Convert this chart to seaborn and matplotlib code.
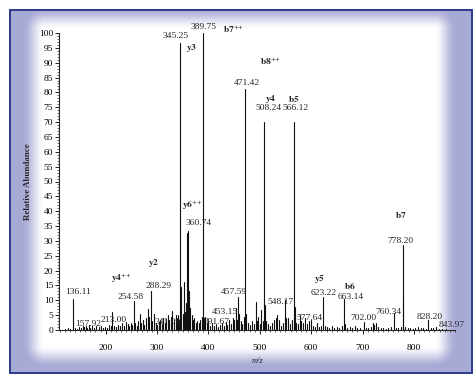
import numpy as np
import pandas as pd
import matplotlib
matplotlib.use("Agg")
import matplotlib.pyplot as plt
from matplotlib.patches import Rectangle
from matplotlib.ticker import MultipleLocator
import seaborn as sns

# ---------------- data ----------------
peak_mz = [120, 126, 131, 136.11, 140, 144, 148, 152, 155, 157.92, 161, 164, 167, 170, 174, 178,
           182, 186, 190, 194, 198, 202, 206, 210, 213.00, 216, 220, 224, 228, 232, 236, 240,
           243, 246, 249, 252, 254.58, 257, 260, 263, 266, 269, 272, 275, 278, 282, 285, 288.29,
           291, 294, 297, 300, 303, 306, 309, 312, 315, 318, 321, 324, 327, 330, 333, 336, 338.5,
           341.09, 343, 345.25, 347, 349.5, 352, 354.5, 357, 359.2, 360.74, 362.5, 364.5, 367,
           369.5, 372, 375, 378, 381, 384, 386.5, 389.75, 391.67, 394, 397, 400, 403, 406, 410,
           414, 418, 422, 426, 430, 434, 437, 440, 444, 447, 450, 453.15, 455.5, 457.59, 460,
           463, 466, 468.5, 471.42, 474, 477, 480, 484, 488, 491.6, 494, 497, 500, 503, 506,
           508.24, 510, 513, 516, 520, 524, 528, 531, 534, 537, 541, 545, 548.17, 551, 555, 559,
           563, 566.12, 568, 571, 574, 577.64, 581, 584, 588, 592, 596, 600, 604, 608, 612, 616,
           620, 623.22, 626, 630, 635, 640, 645, 650, 655, 660, 663.14, 666, 670, 675, 680, 685,
           690, 695, 702.00, 706, 711, 716, 720, 722.5, 726, 730, 735, 740, 745, 750, 755,
           760.34, 765, 770, 774, 778.20, 779.5, 783, 788, 793, 798, 803, 808, 813, 818, 823,
           828.20, 833, 838, 843.97, 848, 855, 862]
peak_int = [0.4, 0.6, 0.5, 10.3, 0.8, 0.5, 1.0, 0.6, 1.2, 1.0, 1.5, 0.7, 1.8, 0.8, 1.2, 0.6,
            1.5, 0.9, 1.3, 0.7, 1.1, 0.8, 1.6, 1.2, 6.0, 1.4, 1.0, 1.8, 1.2, 2.2, 1.5, 2.8,
            2.0, 1.4, 2.5, 1.8, 9.7, 2.2, 1.5, 3.0, 5.5, 2.2, 3.2, 1.8, 4.0, 7.0, 4.5, 13.0,
            3.0, 5.5, 2.5, 1.8, 2.8, 3.5, 2.0, 4.2, 2.5, 3.8, 5.0, 3.2, 4.5, 6.5, 3.5, 5.0, 4.0,
            5.0, 3.5, 96.7, 14.5, 5.5, 16.0, 6.0, 9.0, 32.5, 33.5, 13.0, 7.5, 5.0,
            3.5, 4.0, 2.5, 3.0, 2.2, 3.5, 4.5, 100.0, 4.0, 4.5, 2.5, 3.0, 1.5, 2.2, 1.2,
            2.0, 1.0, 1.8, 2.5, 1.5, 2.8, 1.8, 3.5, 2.0, 4.0, 3.4, 7.5, 3.5, 11.0, 5.5,
            3.0, 2.0, 4.5, 81.0, 5.5, 2.5, 1.8, 3.0, 2.0, 9.5, 3.0, 4.5, 2.0, 6.7, 3.0,
            70.0, 8.4, 3.0, 2.0, 1.5, 2.2, 3.5, 4.2, 5.0, 3.5, 1.5, 2.2, 10.0, 4.0, 4.2, 2.0,
            3.2, 70.0, 7.8, 2.5, 2.0, 5.0, 3.0, 2.5, 4.0, 2.0, 3.0, 3.5, 1.5, 1.0, 2.2, 1.0,
            1.5, 11.0, 1.5, 1.0, 0.8, 1.3, 0.7, 1.0, 0.8, 1.5, 10.5, 2.0, 0.8, 1.0, 0.6, 1.3,
            0.8, 0.6, 2.7, 0.8, 0.6, 1.0, 2.2, 1.8, 2.5, 1.0, 0.6, 0.8, 0.5, 0.7, 1.0,
            5.7, 0.8, 0.6, 1.0, 28.6, 11.0, 1.0, 0.6, 0.8, 0.5, 0.7, 1.0, 0.6, 0.8, 0.5,
            3.4, 0.6, 0.7, 1.0, 0.5, 0.4, 0.3]

# peaks that carry an m/z label
label_mz = [136.11, 157.92, 213.00, 254.58, 288.29, 341.09, 345.25, 360.74, 389.75, 391.67,
            453.15, 457.59, 471.42, 508.24, 548.17, 566.12, 577.64, 623.22, 663.14, 702.00,
            760.34, 778.20, 828.20, 843.97]
# fragment-ion annotations and the peak they belong to
ion_names = [r"$\mathbf{y4}^{{+}{+}}$", r"$\mathbf{y2}$", r"$\mathbf{y3}$",
             r"$\mathbf{y6}^{{+}{+}}$", r"$\mathbf{b7}^{{+}{+}}$",
             r"$\mathbf{b8}^{{+}{+}}$", r"$\mathbf{y4}$", r"$\mathbf{b5}$",
             r"$\mathbf{y5}$", r"$\mathbf{b6}$", r"$\mathbf{b7}$"]
ion_mz = [254.58, 288.29, 345.25, 360.74, 389.75, 471.42, 508.24, 566.12, 623.22, 663.14, 778.20]

# ---------------- styling / placement (pixel offsets from peak tops) ----------------
label_off = {136.11: (5, 7.4), 157.92: (4, 3.5), 213.00: (1.5, -8), 254.58: (-3, 4.5),
             288.29: (7, 5.4), 341.09: (-11, -6.5), 345.25: (-4.5, 7), 360.74: (10.6, 7.8),
             389.75: (0.7, 6), 391.67: (12.7, -3.7), 453.15: (-11, -4), 457.59: (-4, 5.6),
             471.42: (1.7, 6), 508.24: (4.8, 14.3), 548.17: (-3.8, -1.4), 566.12: (2, 14.3),
             577.64: (10, -3), 623.22: (0.7, 4.6), 663.14: (7, 2), 702.00: (0, 3.7),
             760.34: (-5, 1.3), 778.20: (-2, 4.3), 828.20: (1.3, 2.7), 843.97: (15, 2.5)}
ion_off = [(-13, 23), (3, 28.7), (11.5, -5), (3.6, 25.5), (30.7, 4), (25.7, 27.7),
           (6.8, 23), (0, 23), (-3.3, 18.3), (6, 12.8), (-2, 30)]

sns.set_style("ticks")
plt.rcParams["font.family"] = ["Liberation Serif", "DejaVu Serif"]
plt.rcParams["mathtext.fontset"] = "stix"

W, H = 477, 382
fig = plt.figure(figsize=(W / 100, H / 100), dpi=100)

# background frame with soft lavender gradient
bg = fig.add_axes([0, 0, 1, 1], zorder=-10)
yy, xx = np.mgrid[0:H, 0:W]
L, R, T, B = 44, 434, 29, 345
dx = np.maximum(np.maximum(L - xx, 0), xx - R)
dy = np.maximum(np.maximum(T - yy, 0), yy - B)
d = np.sqrt(dx ** 2 + dy ** 2)
t = np.clip(d / 22.0, 0, 1)
t = t * t * (3 - 2 * t)
lav = np.array([168, 170, 214]) / 255.0
img = np.ones((H, W, 3)) * (1 - t[..., None]) + lav * t[..., None]
inside = (xx >= 10) & (xx <= 472) & (yy >= 10) & (yy <= 373)
img[~inside] = 1.0
bg.imshow(img, extent=[0, 1, 0, 1], aspect="auto", interpolation="bilinear")
bg.set_xlim(0, 1); bg.set_ylim(0, 1); bg.axis("off")
bg.add_patch(Rectangle((10 / W, 1 - 373 / H), 462 / W, 363 / H, fill=False,
                       edgecolor="#2e3a8c", lw=1.4))

ax = fig.add_axes([59.5 / W, 1 - 330 / H, (455 - 59.5) / W, (330 - 33) / H])
ax.patch.set_alpha(0)

rows = []
for i, (m, h) in enumerate(zip(peak_mz, peak_int)):
    rows.append({"mz": m, "ab": 0.0, "pid": i, "o": 0})
    rows.append({"mz": m, "ab": h, "pid": i, "o": 1})
df = pd.DataFrame(rows)
sns.lineplot(data=df, x="mz", y="ab", units="pid", estimator=None, sort=False,
             color="#111111", lw=0.8, ax=ax, legend=False)

ax.set_xlim(110, 880)
ax.set_ylim(0, 100)
sns.despine(ax=ax)
ax.spines["left"].set_linewidth(0.8)
ax.spines["bottom"].set_linewidth(0.8)
ax.xaxis.set_major_locator(MultipleLocator(100))
ax.xaxis.set_minor_locator(MultipleLocator(10))
ax.yaxis.set_major_locator(MultipleLocator(5))
ax.yaxis.set_minor_locator(MultipleLocator(1))
ax.tick_params(axis="both", which="major", length=3, width=0.6, labelsize=6.8, pad=1.5,
               direction="out", colors="black")
ax.tick_params(axis="both", which="minor", length=1.6, width=0.5, direction="out")
ax.tick_params(axis="x", which="major", pad=7)
ax.set_xticks([200, 300, 400, 500, 600, 700, 800])
ax.set_xlabel("m/z", fontsize=6, style="italic", labelpad=4)
ax.set_ylabel("Relative Abundance", fontsize=6.5, fontweight="bold", labelpad=5)

k = 0.72  # px -> points
lookup = dict(zip(peak_mz, peak_int))
for m in label_mz:
    ox, oy = label_off[m]
    ax.annotate(f"{m:.2f}", xy=(m, lookup[m]), xytext=(ox * k, oy * k),
                textcoords="offset points", ha="center", va="center", fontsize=6.8)
for name, m, (ox, oy) in zip(ion_names, ion_mz, ion_off):
    ax.annotate(name, xy=(m, lookup[m]), xytext=(ox * k, oy * k),
                textcoords="offset points", ha="center", va="center", fontsize=6.8)

fig.savefig("out.png", dpi=100)
